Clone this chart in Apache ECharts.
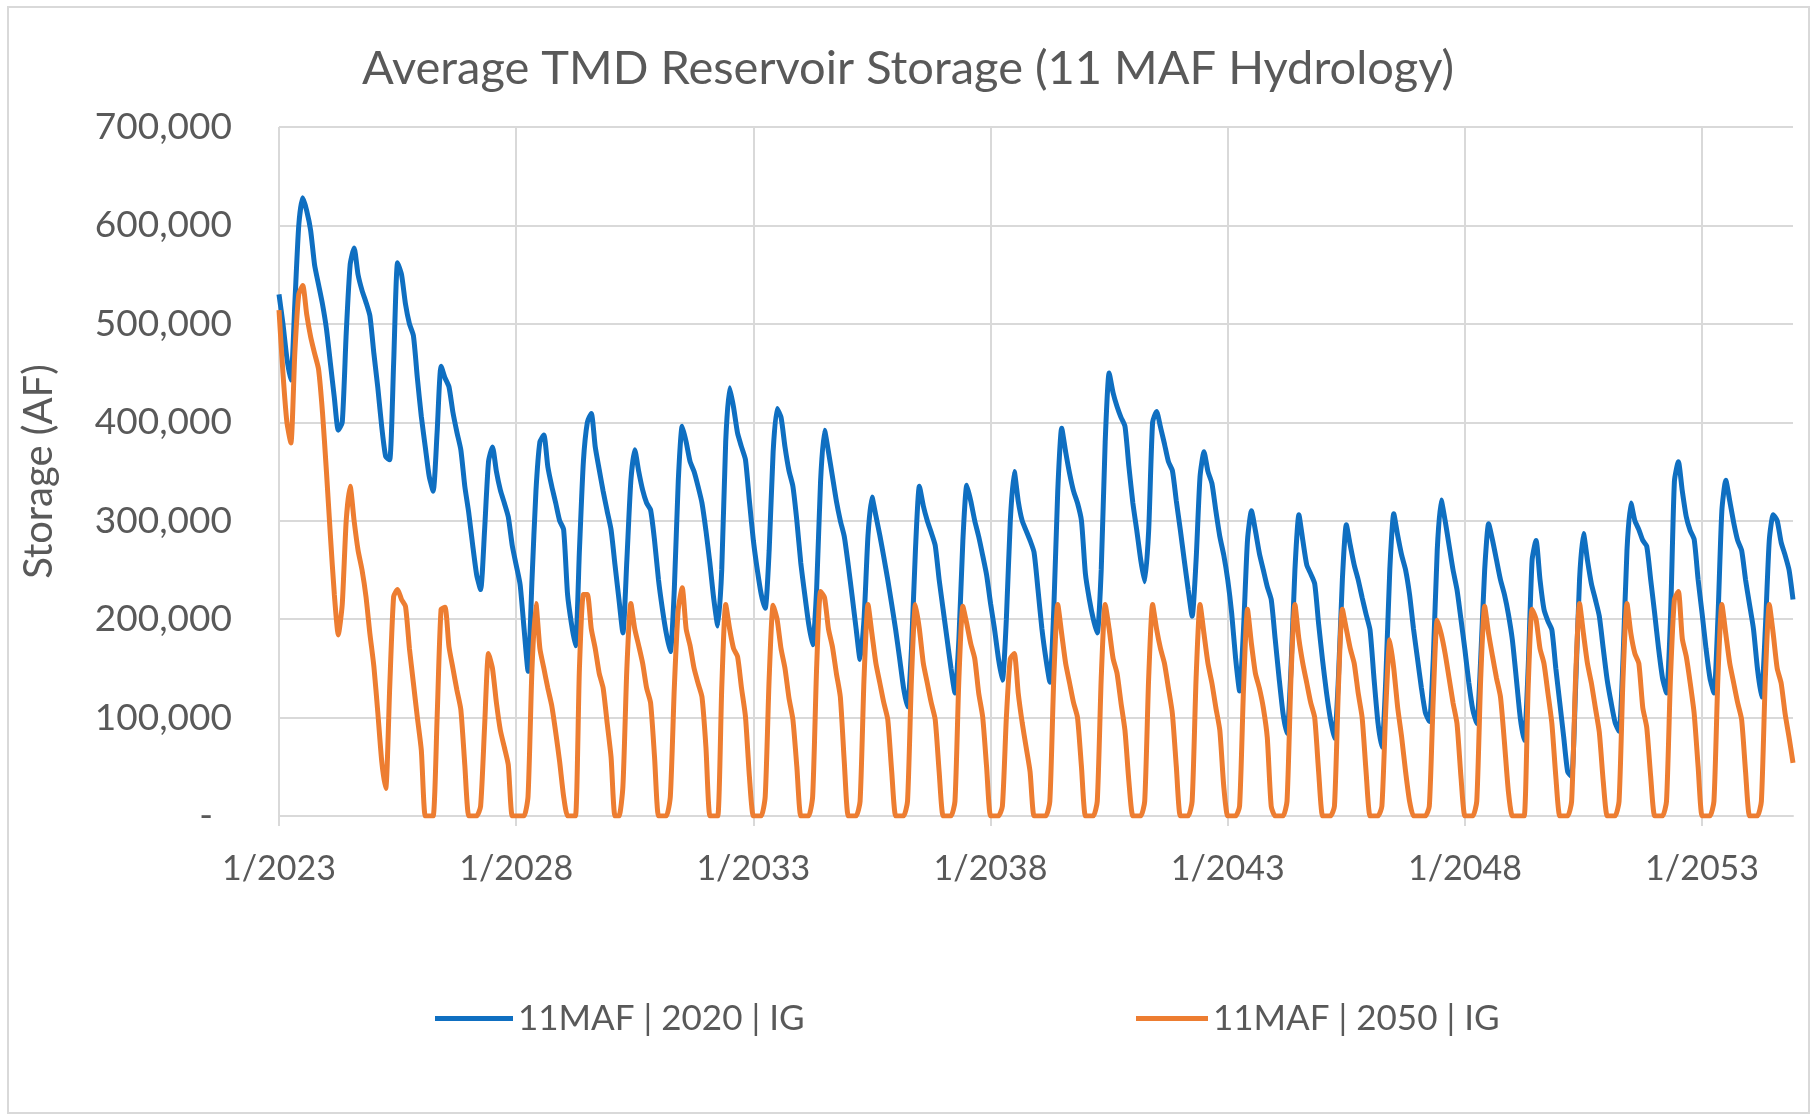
<!DOCTYPE html>
<html>
<head>
<meta charset="utf-8">
<script src="https://cdn.jsdelivr.net/npm/echarts@6/dist/echarts.min.js"></script>
<style>
html,body{margin:0;padding:0;background:#fff;}
#chart{width:1816px;height:1117px;}
</style>
</head>
<body>
<div id="chart"></div>
<script>
// ---- Data (storage in thousand acre-feet, monthly Jan..Dec) ----
const startYear = 2023;
const endYear = 2054;
const unitAF = 1000;
const seriesNames = ['11MAF | 2020 | IG', '11MAF | 2050 | IG'];
const yTicks = [0, 100000, 200000, 300000, 400000, 500000, 600000, 700000];

const ig2020 = [
  530,500,465,443,520,600,628,615,595,560,540,520,   // 2023
  495,460,425,392,400,490,560,577,550,534,522,508,   // 2024
  470,435,395,365,362,460,562,550,520,500,488,445,   // 2025
  406,375,345,330,390,457,445,436,410,390,372,335,   // 2026
  308,275,245,230,290,360,375,350,331,318,304,275,   // 2027
  255,235,190,147,240,330,380,387,355,335,318,300,   // 2028
  291,225,195,173,270,360,400,409,375,352,330,310,   // 2029
  291,255,220,186,260,340,372,350,331,318,311,280,   // 2030
  240,210,185,167,230,340,396,380,360,350,335,318,   // 2031
  290,257,220,193,250,380,435,415,389,375,362,320,   // 2032
  280,250,225,211,270,370,414,405,375,351,335,300,   // 2033
  257,225,195,174,230,340,392,370,345,320,300,284,   // 2034
  255,223,190,159,200,285,324,305,285,263,240,215,   // 2035
  189,160,130,111,170,270,335,315,300,288,275,240,   // 2036
  210,180,150,125,180,280,336,320,300,284,265,245,   // 2037
  216,190,160,138,200,300,350,320,300,290,280,268,   // 2038
  230,190,160,136,210,330,394,370,348,330,318,300,   // 2039
  246,220,200,186,250,380,450,430,416,405,396,355,   // 2040
  318,290,260,238,290,400,411,395,378,360,351,320,   // 2041
  291,260,230,203,260,345,370,350,338,310,284,265,   // 2042
  240,206,160,127,190,280,310,290,267,250,233,220,   // 2043
  180,140,104, 84,150,250,306,280,255,246,236,195,   // 2044
  158,125, 98, 79,140,240,296,275,255,240,222,205,   // 2045
  189,140, 95, 70,140,250,307,285,265,250,225,190,   // 2046
  160,130,105, 96,160,270,321,300,275,250,230,200,   // 2047
  169,135,108, 94,160,250,297,280,260,240,225,205,   // 2048
  179,140,100, 77,150,260,280,240,210,198,189,150,   // 2049
  115, 80, 45, 40,130,240,287,260,236,220,203,170,   // 2050
  138,115, 95, 86,160,270,318,300,291,280,274,240,   // 2051
  206,170,140,125,200,340,360,330,304,290,281,240,   // 2052
  206,170,140,125,200,310,341,320,298,280,270,240,   // 2053
  215,190,150,121,190,280,306,300,278,265,250,220    // 2054
];

const ig2050 = [
  514,450,400,379,470,530,539,510,487,470,454,410,   // 2023
  350,285,225,184,215,300,335,300,270,250,223,185,   // 2024
  152,105, 55, 28,130,223,230,220,213,170,135,100,   // 2025
   67,  0,  0,  0,100,210,212,172,150,128,108, 52,   // 2026
    0,  0,  0, 10, 90,165,150,115, 87, 70, 52,  0,   // 2027
    0,  0,  0, 20,150,216,170,150,130,112, 85, 55,   // 2028
   20,  0,  0,  0,150,225,225,190,170,145,130, 95,   // 2029
   60,  0,  0, 30,150,216,190,173,155,130,115, 60,   // 2030
    0,  0,  0, 20,130,210,232,190,173,150,135,121,   // 2031
   70,  0,  0,  0,130,215,190,170,162,130,101, 40,   // 2032
    0,  0,  0, 20,140,214,200,170,150,120, 98, 50,   // 2033
    0,  0,  0, 20,150,228,222,190,172,145,121, 55,   // 2034
    0,  0,  0, 15,140,215,185,155,135,115, 98, 45,   // 2035
    0,  0,  0, 15,140,215,190,155,135,115, 98, 45,   // 2036
    0,  0,  0, 15,140,213,195,175,160,125,101, 50,   // 2037
    0,  0,  0, 10,100,160,165,125, 95, 70, 45,  0,   // 2038
    0,  0,  0, 15,140,215,185,155,135,115,100, 50,   // 2039
    0,  0,  0, 15,140,215,190,160,145,115, 87, 35,   // 2040
    0,  0,  0, 15,140,215,190,170,155,130,104, 50,   // 2041
    0,  0,  0, 15,140,215,185,155,135,110, 87, 30,   // 2042
    0,  0,  0, 10,130,210,175,145,130,110, 80, 10,   // 2043
    0,  0,  0, 15,140,215,180,155,135,115,100, 45,   // 2044
    0,  0,  0, 10,130,210,190,170,155,125,100, 45,   // 2045
    0,  0,  0, 10,110,179,150,110, 80, 45, 15,  0,   // 2046
    0,  0,  0, 10,120,199,185,165,140,115, 94, 40,   // 2047
    0,  0,  0, 15,140,213,185,162,140,121, 75, 25,   // 2048
    0,  0,  0,  0,130,210,200,170,155,125, 94, 40,   // 2049
    0,  0,  0, 15,140,216,185,155,135,110, 85, 35,   // 2050
    0,  0,  0, 15,140,216,185,165,155,110, 90, 40,   // 2051
    0,  0,  0, 15,140,220,228,180,162,135,104, 50,   // 2052
    0,  0,  0, 15,140,215,185,155,135,115, 98, 45,   // 2053
    0,  0,  0, 15,140,215,185,150,135,104, 80, 54    // 2054
];

// month categories "M/YYYY"
const months = [];
for (let y = startYear; y <= endYear; y++) {
  for (let m = 1; m <= 12; m++) months.push(m + '/' + y);
}

const FONT = 'Lato';
const TXT = '#595959';
const GRID = '#d9d9d9';
const BLUE = '#0f6fc1';
const ORANGE = '#ed7d31';

const chart = echarts.init(document.getElementById('chart'), null, {renderer: 'canvas'});
chart.setOption({
  animation: false,
  backgroundColor: '#ffffff',
  textStyle: {fontFamily: FONT, color: TXT},
  title: {
    text: 'Average TMD Reservoir Storage (11 MAF Hydrology)',
    left: 'center',
    top: 40,
    textStyle: {fontFamily: FONT, fontSize: 47, fontWeight: 'normal', color: TXT}
  },
  graphic: [{
    type: 'rect',
    shape: {x: 8, y: 7, width: 1801, height: 1106},
    style: {fill: 'none', stroke: GRID, lineWidth: 2},
    silent: true
  }],
  legend: [
    {
      data: [seriesNames[0]], left: 430, top: 996, icon: 'rect',
      itemWidth: 78, itemHeight: 5, itemGap: 0,
      textStyle: {fontFamily: FONT, fontSize: 35, color: TXT}
    },
    {
      data: [seriesNames[1]], left: 1131, top: 996, icon: 'rect',
      itemWidth: 72, itemHeight: 5, itemGap: 0,
      textStyle: {fontFamily: FONT, fontSize: 35, color: TXT}
    }
  ],
  grid: {left: 279, top: 127, width: 1514, height: 689, containLabel: false},
  xAxis: {
    type: 'category',
    data: months,
    boundaryGap: false,
    axisLine: {lineStyle: {color: GRID, width: 2}},
    axisTick: {show: true, interval: 59, length: 10, lineStyle: {color: GRID, width: 2}},
    axisLabel: {interval: 59, fontFamily: FONT, fontSize: 34, color: TXT, margin: 36},
    splitLine: {show: true, interval: 59, lineStyle: {color: GRID, width: 2}}
  },
  yAxis: {
    type: 'value',
    min: yTicks[0],
    max: yTicks[yTicks.length - 1],
    interval: 100000,
    name: 'Storage (AF)',
    nameLocation: 'middle',
    nameGap: 220,
    nameRotate: 90,
    nameTextStyle: {fontFamily: FONT, fontSize: 40, color: TXT},
    axisLine: {show: false},
    axisTick: {show: false},
    axisLabel: {
      fontFamily: FONT, fontSize: 37, color: TXT, margin: 47,
      formatter: v => v === 0 ? '-  ' : v.toLocaleString('en-US')
    },
    splitLine: {lineStyle: {color: GRID, width: 2}}
  },
  series: [
    {
      name: seriesNames[0], type: 'line', showSymbol: false, smooth: 0.2,
      data: ig2020.map(v => v * unitAF),
      lineStyle: {color: BLUE, width: 5}, itemStyle: {color: BLUE}
    },
    {
      name: seriesNames[1], type: 'line', showSymbol: false, smooth: 0.2,
      data: ig2050.map(v => v * unitAF),
      lineStyle: {color: ORANGE, width: 5}, itemStyle: {color: ORANGE}
    }
  ]
});
</script>
</body>
</html>
